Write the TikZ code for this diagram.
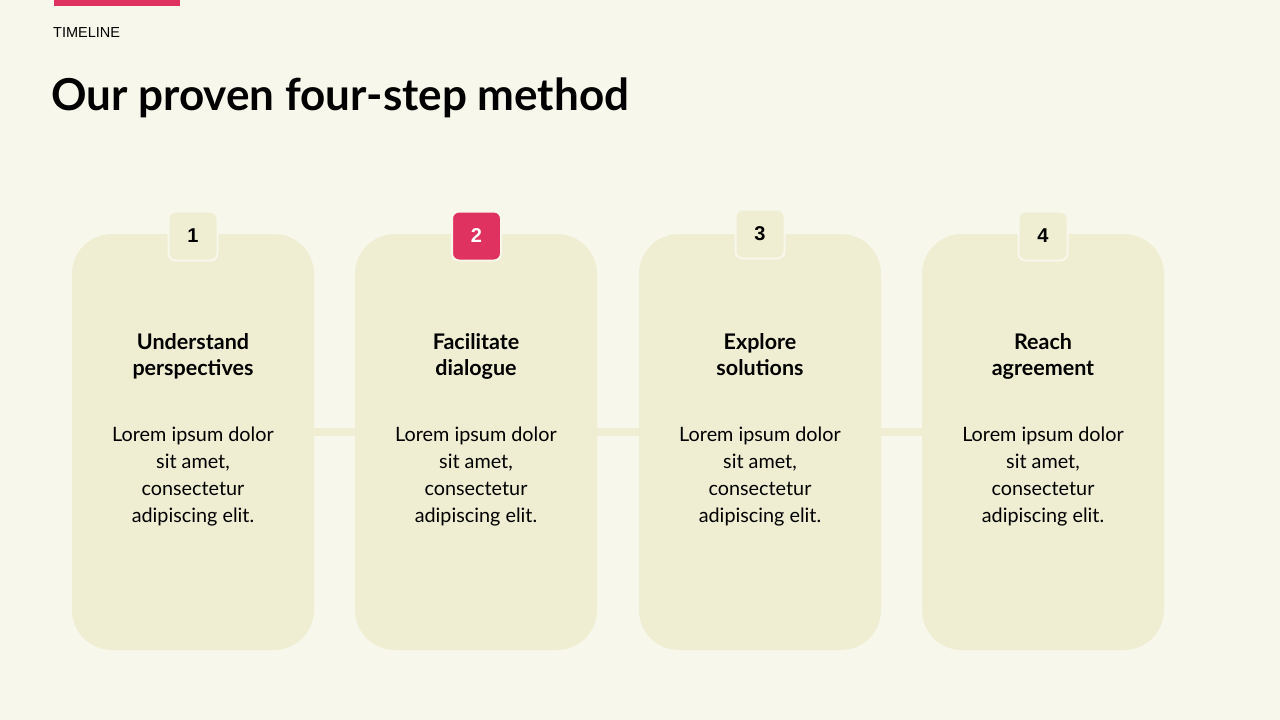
\documentclass[tikz,border=0pt]{standalone}
\usepackage{fontspec}
\setmainfont{Lato}
\newfontfamily\numfont{Liberation Sans}
\definecolor{bgc}{HTML}{F8F7EB}
\definecolor{cardc}{HTML}{EFEED3}
\definecolor{redc}{HTML}{DF3260}
\begin{document}
\begin{tikzpicture}[x=1pt,y=-1pt,
  card/.style={fill=cardc,draw=none,rounded corners=40pt},
  numbox/.style={draw=bgc,line width=2pt,fill=cardc,rounded corners=7pt,minimum width=49pt,minimum height=49pt,inner sep=0pt,font=\numfont\bfseries\fontsize{20}{24}\selectfont},
  heading/.style={align=center,font=\bfseries\fontsize{21.5}{26}\selectfont,inner sep=0pt},
  body/.style={align=center,font=\fontsize{19.8}{27}\selectfont,inner sep=0pt},
  link/.style={draw=cardc,line width=8pt}]
\useasboundingbox[fill=bgc] (0,0) rectangle (1280,720);
\fill[redc] (54,0) rectangle (180,6);
\node[anchor=base west,inner sep=0pt,font=\numfont\fontsize{14.5}{18}\selectfont] (tag) at (53,37) {TIMELINE};
\node[anchor=base west,inner sep=0pt,font=\bfseries\fontsize{44}{52}\selectfont] (title) at (51,110) {Our proven four-step method};
% cards
\foreach \i/\x in {1/72,2/355,3/639,4/922}{
  \path[card] (\x,234) rectangle ++(242,416);
  \coordinate (c\i w) at (\x,432);
  \coordinate (c\i e) at (\x+242,432);
}
\draw[link] (c1e) -- (c2w);
\draw[link] (c2e) -- (c3w);
\draw[link] (c3e) -- (c4w);
\node[numbox] (n1) at (193,236) {1};
\node[numbox,fill=redc,text=white] (n2) at (476.5,236) {2};
\node[numbox] (n3) at (760,234) {3};
\node[numbox] (n4) at (1043,236) {4};
\foreach \x/\h in {193/{Understand\\perspectives},476/{Facilitate\\dialogue},760/{Explore\\solutions},1043/{Reach\\agreement}}{
  \node[heading,anchor=north] at (\x,333) {\h};
  \node[body,anchor=north] at (\x,427) {Lorem ipsum dolor\\sit amet,\\consectetur\\adipiscing elit.};
}
\end{tikzpicture}
\end{document}
